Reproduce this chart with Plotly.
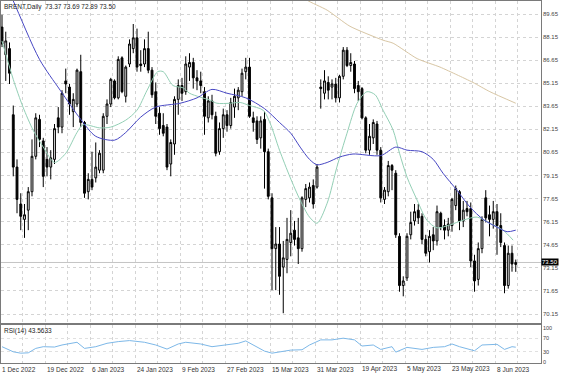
import pandas as pd
import plotly.graph_objects as go

# ---------------- data ----------------
holidays = ["2022-12-26", "2023-01-02", "2023-04-07"]
dates = [d.strftime("%Y-%m-%d") for d in pd.bdate_range("2022-12-01", "2023-06-15")
         if d.strftime("%Y-%m-%d") not in holidays]

tick_labels = ["1 Dec 2022", "19 Dec 2022", "6 Jan 2023", "24 Jan 2023", "9 Feb 2023",
               "27 Feb 2023", "15 Mar 2023", "31 Mar 2023", "19 Apr 2023", "5 May 2023",
               "23 May 2023", "8 Jun 2023"]

opens = [88.8, 87.0, 87.4, 83.1, 79.7, 77.3, 76.3, 76.9, 78.1, 80.4,
         82.8, 81.4, 80.2, 79.7, 80.2, 82.9, 82.3, 85.3, 84.9, 83.3,
         83.8, 85.9, 82.6, 78.1, 78.9, 79.0, 79.5, 79.5, 83.0, 83.8,
         85.3, 84.2, 86.8, 84.3, 86.4, 87.4, 88.1, 86.4, 86.4, 87.4,
         86.0, 84.6, 83.2, 82.4, 82.3, 79.9, 81.2, 84.1, 85.0, 84.6,
         86.2, 86.5, 85.5, 85.3, 84.6, 82.9, 84.0, 83.0, 80.7, 82.2,
         83.1, 82.4, 83.6, 84.2, 84.6, 85.9, 86.2, 82.9, 82.7, 81.6,
         82.8, 80.7, 77.7, 74.4, 74.7, 73.2, 73.7, 74.8, 75.6, 75.1,
         74.4, 77.6, 77.7, 78.5, 78.4, 84.9, 84.5, 85.2, 84.9, 85.1,
         84.2, 85.6, 87.3, 86.3, 86.4, 85.0, 84.8, 82.9, 80.8, 81.6,
         82.5, 80.8, 77.6, 78.1, 79.8, 79.3, 75.2, 72.0, 72.5, 75.3,
         76.2, 76.9, 76.5, 75.0, 74.2, 75.3, 74.9, 76.7, 75.9, 75.6,
         75.9, 77.2, 78.1, 76.2, 77.0, 77.0, 73.6, 72.4, 74.4, 77.7,
         76.6, 76.3, 76.8, 75.9, 74.6, 72.0, 74.1, 73.37]
highs = [89.6, 88.5, 87.8, 83.7, 80.2, 78.0, 77.3, 78.4, 81.5, 83.2,
         83.1, 81.6, 81.0, 80.8, 82.5, 83.6, 84.7, 86.1, 85.1, 84.5,
         86.1, 87.0, 82.7, 79.3, 80.7, 81.3, 80.8, 83.2, 84.1, 85.5,
         85.4, 86.9, 86.9, 86.3, 88.0, 89.0, 88.7, 87.3, 88.0, 88.5,
         86.2, 85.2, 83.6, 83.2, 82.5, 81.5, 84.3, 85.4, 85.5, 86.9,
         87.1, 86.8, 86.0, 85.9, 84.9, 84.3, 84.4, 83.3, 82.6, 83.5,
         83.4, 84.2, 84.8, 84.9, 86.1, 86.8, 86.8, 83.3, 83.0, 83.0,
         83.3, 80.9, 78.0, 75.8, 75.8, 74.9, 76.4, 76.9, 76.2, 76.4,
         77.8, 78.6, 78.7, 78.9, 79.9, 85.4, 86.0, 85.6, 85.4, 85.5,
         85.7, 87.5, 87.5, 87.1, 86.6, 85.3, 84.9, 83.0, 82.5, 82.8,
         82.7, 81.0, 78.4, 80.1, 79.9, 79.5, 75.4, 72.6, 75.4, 76.8,
         77.3, 77.3, 76.7, 75.3, 75.6, 75.8, 77.2, 76.8, 76.3, 76.4,
         77.7, 78.5, 78.2, 77.5, 77.5, 77.4, 74.0, 74.8, 76.5, 78.2,
         77.2, 77.5, 77.3, 76.7, 74.8, 74.6, 74.6, 73.69]
lows = [87.5, 85.3, 85.1, 79.1, 76.7, 75.6, 75.1, 75.6, 77.8, 80.2,
        81.0, 78.4, 79.1, 78.9, 79.9, 81.9, 81.9, 84.5, 83.1, 82.3,
        83.6, 82.3, 77.7, 77.6, 78.2, 78.7, 79.3, 79.3, 82.5, 83.6,
        84.1, 84.1, 84.5, 83.9, 86.2, 87.1, 85.9, 85.9, 86.2, 85.8,
        84.2, 82.5, 81.8, 81.7, 79.5, 79.1, 80.5, 83.1, 84.0, 84.4,
        85.3, 84.8, 84.7, 84.5, 81.8, 82.6, 82.8, 80.4, 80.5, 81.6,
        82.0, 82.2, 82.9, 83.4, 84.3, 85.4, 82.9, 82.0, 81.2, 80.9,
        78.3, 77.6, 71.7, 71.7, 71.4, 70.2, 72.8, 73.9, 74.6, 73.4,
        74.2, 77.1, 77.4, 77.0, 78.3, 83.5, 84.1, 84.1, 84.1, 83.9,
        83.9, 85.4, 86.2, 85.9, 84.5, 84.0, 82.8, 80.6, 80.5, 81.2,
        80.5, 77.4, 77.3, 77.8, 78.2, 75.1, 71.6, 71.3, 72.3, 75.0,
        75.9, 76.0, 74.7, 73.9, 73.5, 74.3, 74.6, 75.6, 75.0, 75.2,
        75.5, 76.9, 75.6, 75.8, 76.5, 73.2, 71.6, 72.0, 74.1, 76.1,
        75.2, 75.7, 74.0, 74.5, 71.5, 71.8, 72.9, 72.89]
closes = [87.7, 87.9, 85.8, 79.7, 77.6, 76.5, 76.6, 78.1, 80.4, 82.9,
          81.5, 79.1, 79.7, 80.3, 82.2, 82.3, 84.5, 85.1, 83.8, 84.1,
          86.0, 82.6, 78.0, 78.9, 78.4, 79.7, 80.6, 83.0, 83.8, 85.4,
          84.2, 86.7, 84.6, 86.2, 87.7, 88.1, 86.2, 86.3, 87.4, 86.0,
          84.4, 83.0, 82.2, 81.9, 79.7, 81.3, 84.1, 85.0, 84.5, 86.4,
          86.5, 85.5, 85.3, 85.0, 83.0, 84.0, 83.1, 80.6, 82.2, 83.1,
          82.4, 83.9, 84.3, 84.7, 85.8, 86.2, 83.0, 82.6, 81.5, 82.7,
          80.7, 77.8, 74.4, 74.7, 72.6, 73.8, 75.0, 75.4, 75.0, 74.4,
          77.7, 78.3, 78.4, 77.3, 79.7, 84.8, 85.3, 84.7, 85.1, 84.2,
          85.6, 87.3, 86.3, 86.5, 84.8, 84.6, 82.9, 80.8, 81.7, 82.6,
          80.8, 77.7, 78.2, 79.8, 79.5, 75.3, 72.0, 72.3, 75.2, 76.1,
          76.8, 76.4, 75.0, 74.1, 75.2, 74.9, 76.8, 75.8, 75.6, 76.0,
          77.6, 78.3, 76.2, 76.9, 76.8, 73.6, 72.3, 74.4, 76.3, 76.4,
          76.3, 76.8, 75.9, 74.8, 72.0, 74.1, 73.4, 73.50]

# moving averages (bar index, price)
ma_slow_idx = [0, 3, 10, 15.5, 21, 25, 30, 33, 37, 41, 47.5, 52, 56, 60, 65, 70, 74, 77,
               79.5, 82, 84, 86.7, 90, 93.6, 101, 105, 108, 112, 115, 117.6, 121.3,
               124.8, 128.3, 132, 134.7, 137]
ma_slow_val = [92.1, 90.5, 86.7, 84.7, 82.8, 81.7, 81.45, 81.95, 82.95, 83.6, 83.85, 84.2,
               84.75, 84.5, 84.2, 83.5, 82.6, 81.9, 81.0, 80.2, 79.85, 80.0, 80.35, 80.55,
               80.45, 81.0, 80.8, 80.7, 80.2, 79.3, 78.2, 77.1, 76.3, 75.8, 75.5, 75.6]
ma_fast_idx = [0, 3, 5.6, 8.3, 11, 14, 17, 20, 21.6, 26, 29, 33, 36, 38.7, 41.5, 43, 45.6,
               48.3, 50, 52.8, 55.5, 57.3, 60.8, 63.5, 66, 69.6, 71.5, 74, 76.8, 79.5, 82,
               84, 86.7, 89.3, 92, 94.7, 97.3, 99.5, 101.6, 104.3, 106, 108, 110.7, 113.3,
               116, 119.5, 123, 126.7, 130, 133.6, 136.3]
ma_fast_val = [87.9, 85.4, 83.6, 82.1, 81.0, 80.0, 80.6, 81.95, 82.45, 82.25, 82.3, 82.75,
               83.4, 84.7, 85.9, 85.9, 85.0, 84.85, 84.5, 84.25, 84.05, 83.85, 83.85, 83.9,
               83.7, 83.4, 82.55, 80.8, 79.05, 77.55, 76.45, 76.05, 77.35, 79.7, 81.9,
               83.85, 84.6, 84.4, 83.4, 82.1, 80.6, 79.05, 77.55, 76.25, 75.75, 75.95,
               76.25, 76.45, 76.05, 75.6, 74.95]
ma_long_idx = [79, 81.3, 86.7, 92.8, 101.6, 104.3, 110.7, 116.8, 121.3, 125.6, 130.1, 137]
ma_long_val = [91.0, 90.55, 89.9, 88.85, 87.95, 87.75, 86.75, 86.2, 85.7, 85.2, 84.6, 83.85]

rsi_idx = [0, 3, 5, 7, 9, 11, 14, 16, 20, 22, 25, 28, 31, 34, 38, 41, 44, 47, 49, 53, 56,
           60, 63, 65, 68, 70, 72, 76, 77, 80, 82, 85, 88, 91, 94, 96, 99, 101, 104, 105,
           108, 112, 115, 118, 120, 122, 126, 128, 132, 134, 136, 137]
rsi_val = [45, 30, 26, 27, 40, 45, 44, 50, 58, 40, 45, 55, 60, 63, 58, 50, 38, 53, 58, 53,
           45, 50, 55, 62, 45, 32, 26, 32, 35, 36, 50, 65, 65, 70, 65, 47, 50, 37, 45, 29,
           43, 37, 43, 45, 53, 45, 33, 50, 52, 37, 45, 43.56]
rsi_last = 43.5633

price_ticks = [70.15, 71.65, 73.15, 74.65, 76.15, 77.65, 79.15, 80.65, 82.15, 83.65,
               85.15, 86.65, 88.15, 89.65]
rsi_ticks = [0, 30, 70, 100]

# ---------------- figure ----------------
idx = list(range(len(dates)))
FONT = "Liberation Sans"
GRID = "#d4d4d4"
BAR_PX = 3.75          # pixel spacing between bars in the reference
x_lo, x_hi = -0.27, 143.73
vgrid = [(22.5 * k - 2) / BAR_PX for k in range(1, 25)]

fig = go.Figure()
fig.add_trace(go.Candlestick(
    x=idx, open=opens, high=highs, low=lows, close=closes,
    increasing=dict(line=dict(color="#000000", width=1), fillcolor="#ececec"),
    decreasing=dict(line=dict(color="#000000", width=1), fillcolor="#000000"),
    whiskerwidth=0, showlegend=False, hoverinfo="skip", xaxis="x", yaxis="y"))
fig.add_trace(go.Scatter(x=ma_long_idx, y=ma_long_val, mode="lines",
                         line=dict(color="#d8c6a4", width=1, shape="spline", smoothing=0.6),
                         showlegend=False, hoverinfo="skip", xaxis="x", yaxis="y"))
fig.add_trace(go.Scatter(x=ma_fast_idx, y=ma_fast_val, mode="lines",
                         line=dict(color="#93cfb5", width=1, shape="spline", smoothing=0.8),
                         showlegend=False, hoverinfo="skip", xaxis="x", yaxis="y"))
fig.add_trace(go.Scatter(x=ma_slow_idx, y=ma_slow_val, mode="lines",
                         line=dict(color="#4848c4", width=1, shape="spline", smoothing=0.8),
                         showlegend=False, hoverinfo="skip", xaxis="x", yaxis="y"))
fig.add_trace(go.Scatter(x=rsi_idx, y=rsi_val, mode="lines",
                         line=dict(color="#7db8e8", width=1),
                         showlegend=False, hoverinfo="skip", xaxis="x2", yaxis="y2"))

# current price line
fig.add_shape(type="line", xref="x domain", yref="y", x0=0, x1=1,
              y0=closes[-1], y1=closes[-1], line=dict(color="#c4c4c4", width=1), layer="below")

axis_common = dict(showline=True, mirror=True, linecolor="#7a7a7a", linewidth=1,
                   zeroline=False, ticks="", showticklabels=False)
fig.update_layout(
    width=564, height=376, paper_bgcolor="white", plot_bgcolor="white",
    margin=dict(l=1, r=23, t=1, b=13),
    font=dict(family=FONT, size=6, color="#333333"),
    xaxis=dict(domain=[0, 1], anchor="y", range=[x_lo, x_hi], tickvals=vgrid,
               showgrid=True, gridcolor=GRID, griddash="dot",
               gridwidth=1, rangeslider=dict(visible=False), **axis_common),
    yaxis=dict(domain=[0.1105, 1], anchor="x", range=[69.566, 90.495],
               tickvals=price_ticks, showgrid=True, gridcolor=GRID, griddash="dot",
               gridwidth=1, **axis_common),
    xaxis2=dict(domain=[0, 1], anchor="y2", matches="x", range=[x_lo, x_hi], tickvals=vgrid,
                showgrid=True, gridcolor=GRID, griddash="dot", gridwidth=1, **axis_common),
    yaxis2=dict(domain=[0, 0.105], anchor="x2", range=[-2.9, 108.8],
                tickvals=[30, 70], showgrid=True, gridcolor="#e0e0e0", griddash="dot",
                gridwidth=1, **axis_common),
)

annotations = []
# price scale labels (right side)
for v in price_ticks:
    annotations.append(dict(x=1, y=v, xref="paper", yref="y", text=f"{v:.2f}",
                            showarrow=False, xanchor="left", yanchor="middle", xshift=1,
                            borderpad=0, font=dict(size=6, color="#444444")))
# RSI scale labels
for v in rsi_ticks:
    annotations.append(dict(x=1, y=v, xref="paper", yref="y2", text=str(v),
                            showarrow=False, xanchor="left", yanchor="middle", xshift=1,
                            borderpad=0, font=dict(size=5.5, color="#444444")))
# date labels, left aligned at every 12th bar
for k, lab in enumerate(tick_labels):
    annotations.append(dict(x=12 * k - 0.2, y=0, xref="x2", yref="paper", text=lab,
                            showarrow=False, xanchor="left", yanchor="middle", yshift=-6,
                            borderpad=0, font=dict(size=6.5, color="#333333")))
# title
annotations.append(dict(x=0, y=1, xref="paper", yref="paper", xanchor="left", yanchor="top",
                        xshift=2, yshift=-1, showarrow=False, borderpad=0,
                        text=f"BRENT,Daily  {opens[-1]:.2f} {highs[-1]:.2f} {lows[-1]:.2f} {closes[-1]:.2f}",
                        font=dict(size=6.5, color="#222222")))
# RSI label
annotations.append(dict(x=0, y=1, xref="paper", yref="y2 domain", xanchor="left", yanchor="top",
                        xshift=2, yshift=-1, showarrow=False, borderpad=0,
                        text=f"RSI(14) {rsi_last:.4f}", font=dict(size=6.5, color="#222222")))
# current price tag
annotations.append(dict(x=1, y=closes[-1], xref="paper", yref="y", xanchor="left",
                        yanchor="middle", showarrow=False, text=f"{closes[-1]:.2f}",
                        bgcolor="#000000", borderpad=0, font=dict(size=6, color="#ffffff")))
fig.update_layout(annotations=annotations)

fig.write_html("out.html", config={"displayModeBar": False},
               post_script="document.body.style.margin='0';document.body.style.overflow='hidden';")
